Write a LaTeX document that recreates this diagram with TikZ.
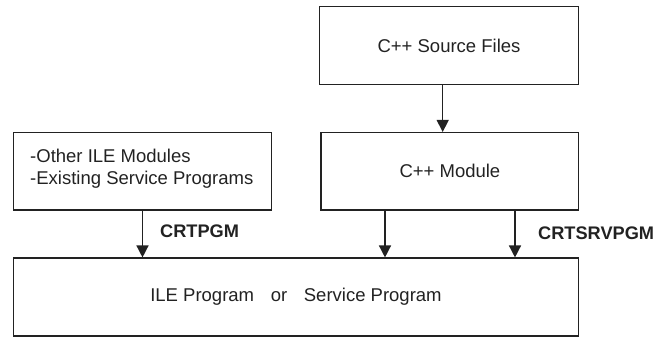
\documentclass[tikz,border=0pt]{standalone}
\usepackage{fontspec}
\setmainfont{Liberation Sans}
\usetikzlibrary{arrows.meta}
\definecolor{ink}{HTML}{222222}
\begin{document}
\begin{tikzpicture}[x=1pt,y=-1pt,
  box/.style={draw=ink, line width=1.4pt, inner sep=0pt, text=ink, font=\fontsize{18.5}{22}\selectfont},
  arr/.style={draw=ink, line width=1.4pt, -{Triangle[length=12pt,width=12pt]}},
  lbl/.style={text=ink, font=\fontsize{18.2}{20}\selectfont\bfseries, inner sep=0pt}]
\useasboundingbox (0,0) rectangle (657,337);
\node[box, minimum width=259.4pt, minimum height=77.6pt] (src) at (449,45.5) {C++ Source Files};
\node[box, minimum width=257.7pt, minimum height=77.3pt] (mod) at (449.9,171.3) {C++ Module};
\node[box, minimum width=258.4pt, minimum height=77.7pt] (oth) at (142.5,171.2) {};
\node[text=ink, font=\fontsize{18.5}{22.5}\selectfont, anchor=west, align=left, inner sep=0pt] (othtxt) at (30,168.5) {-Other ILE Modules\\-Existing Service Programs};
\node[box, minimum width=565.4pt, minimum height=77.7pt] (prog) at (296,297) {ILE Program\hspace{0.9em}or\hspace{0.9em}Service Program};
\draw[arr] ([xshift=-6.3pt]src.south) -- ([xshift=-6.3pt]src.south |- mod.north);
\draw[arr] (oth.south) -- (oth.south |- prog.north);
\coordinate (m1) at ([xshift=-64.9pt]mod.south);
\coordinate (m2) at ([xshift=65.1pt]mod.south);
\draw[arr] (m1) -- (m1 |- prog.north);
\draw[arr] (m2) -- (m2 |- prog.north);
\node[lbl, anchor=west] (crtpgm) at (160,231.5) {CRTPGM};
\node[lbl, anchor=west] (crtsrv) at (538,233) {CRTSRVPGM};
\end{tikzpicture}
\end{document}
